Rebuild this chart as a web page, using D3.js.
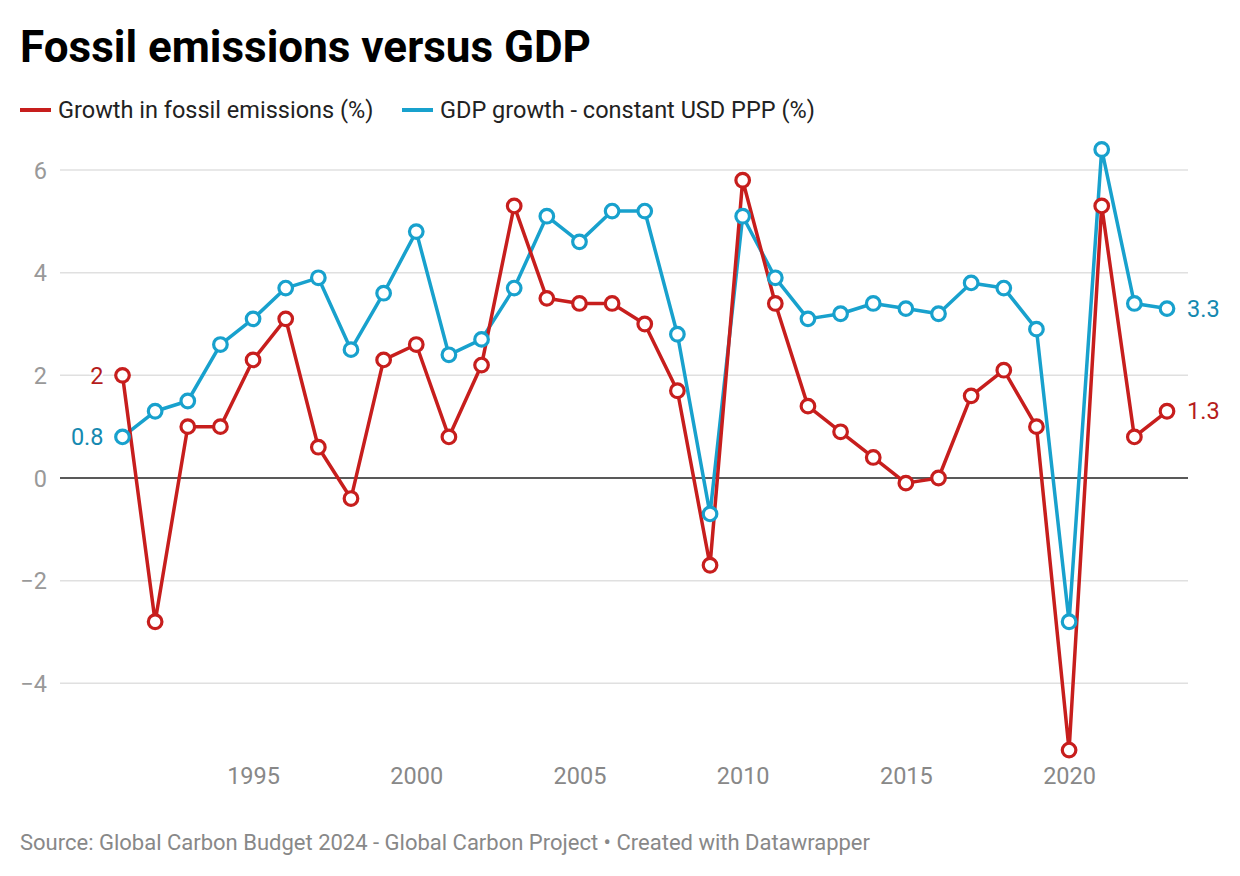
<html>
<head>
<script src="https://cdn.jsdelivr.net/npm/d3@7"></script>
<style>
  body { margin: 0; background: #fff; font-family: Roboto, "Noto Sans", sans-serif; }
  .tick text { font-family: Roboto, sans-serif; }
</style>
</head>
<body>
<div id="chart"></div>
<script type="text/javascript">
// data
var years = d3.range(1991, 2024);
var emissions = [2.0, -2.8, 1.0, 1.0, 2.3, 3.1, 0.6, -0.4, 2.3, 2.6, 0.8, 2.2, 5.3, 3.5, 3.4, 3.4, 3.0, 1.7, -1.7, 5.8,
                 3.4, 1.4, 0.9, 0.4, -0.1, 0.0, 1.6, 2.1, 1.0, -5.3, 5.3, 0.8, 1.3];
var gdp = [0.8, 1.3, 1.5, 2.6, 3.1, 3.7, 3.9, 2.5, 3.6, 4.8, 2.4, 2.7, 3.7, 5.1, 4.6, 5.2, 5.2, 2.8, -0.7, 5.1,
           3.9, 3.1, 3.2, 3.4, 3.3, 3.2, 3.8, 3.7, 2.9, -2.8, 6.4, 3.4, 3.3];
var seriesNames = ["Growth in fossil emissions (%)", "GDP growth - constant USD PPP (%)"];
var xTicks = [1995, 2000, 2005, 2010, 2015, 2020];
var yTicks = [-4, -2, 0, 2, 4, 6];

var red = "#c71e1d", blue = "#18a1cd";
var redText = "#b51c1c", blueText = "#1589b0";
var W = 1240, H = 876;

var svg = d3.select("#chart").append("svg").attr("width", W).attr("height", H);

// title + legend
svg.append("text").attr("x", 20).attr("y", 62)
    .style("font-size", "44px").style("font-weight", 700).style("fill", "#000")
    .text("Fossil emissions versus GDP");

var legend = [{name: seriesNames[0], color: red, x: 20}, {name: seriesNames[1], color: blue, x: 402}];
legend.forEach(function(l) {
    svg.append("line").attr("x1", l.x).attr("x2", l.x + 31).attr("y1", 110).attr("y2", 110)
        .attr("stroke", l.color).attr("stroke-width", 4);
    svg.append("text").attr("x", l.x + 38).attr("y", 118)
        .style("font-size", "23.5px").style("fill", "#222").text(l.name);
});

var x = d3.scaleLinear().domain([1991, 2023]).range([122.5, 1167]);
var y = d3.scaleLinear().domain([0, 6]).range([478, 170]);

// gridlines
var yAxis = d3.axisLeft(y).tickValues(yTicks).tickSize(0).tickFormat(function(d) { return d < 0 ? "\u2212" + (-d) : d; });
var gy = svg.append("g").attr("transform", "translate(60,0)").call(yAxis);
gy.select(".domain").remove();
gy.selectAll("text").attr("x", -13).attr("dy", "0.35em")
    .style("font-size", "23.5px").style("fill", "#999").style("font-family", "Roboto, sans-serif");
svg.append("g").selectAll("line").data(yTicks.filter(function(d) { return d != 0; })).enter().append("line")
    .attr("x1", 60).attr("x2", 1188)
    .attr("y1", function(d) { return y(d); }).attr("y2", function(d) { return y(d); })
    .attr("stroke", "#e0e0e0").attr("stroke-width", 1.5);
svg.append("line").attr("x1", 60).attr("x2", 1188).attr("y1", y(0)).attr("y2", y(0))
    .attr("stroke", "#222").attr("stroke-width", 1.5);

// x axis
var xAxis = d3.axisBottom(x).tickValues(xTicks).tickSize(0).tickFormat(d3.format("d"));
var gx = svg.append("g").attr("transform", "translate(0,776)").call(xAxis);
gx.select(".domain").remove();
gx.selectAll("text").attr("y", 0).attr("dy", "0.35em")
    .style("font-size", "23.5px").style("fill", "#888").style("font-family", "Roboto, sans-serif");

// lines
var line = d3.line().x(function(d, i) { return x(years[i]); }).y(function(d) { return y(d); });

function drawSeries(vals, color) {
    svg.append("path").attr("d", line(vals)).attr("fill", "none")
        .attr("stroke", color).attr("stroke-width", 3.5).attr("stroke-linejoin", "round");
}
function drawDots(vals, color) {
    svg.append("g").selectAll("circle").data(vals).enter().append("circle")
        .attr("cx", function(d, i) { return x(years[i]); })
        .attr("cy", function(d) { return y(d); })
        .attr("r", 6.8).attr("fill", "#fff").attr("stroke", color).attr("stroke-width", 3.2);
}
drawSeries(gdp, blue);
drawSeries(emissions, red);
drawDots(gdp, blue);
drawDots(emissions, red);

// end labels (white halo so gridlines break behind them)
function label(val, xpos, anchor, color) {
    svg.append("text").attr("x", xpos).attr("y", y(val)).attr("dy", "0.35em")
        .attr("text-anchor", anchor).style("font-size", "23.5px").style("fill", color)
        .style("stroke", "#fff").style("stroke-width", 4).style("paint-order", "stroke")
        .text(val);
}
label(emissions[0], x(years[0]) - 19, "end", redText);
label(gdp[0], x(years[0]) - 19, "end", blueText);
label(emissions[emissions.length - 1], x(2023) + 20, "start", redText);
label(gdp[gdp.length - 1], x(2023) + 20, "start", blueText);

// footer
svg.append("text").attr("x", 20).attr("y", 850)
    .style("font-size", "22px").style("fill", "#888")
    .text("Source: Global Carbon Budget 2024 - Global Carbon Project \u2022 Created with Datawrapper");
</script>
</body>
</html>
